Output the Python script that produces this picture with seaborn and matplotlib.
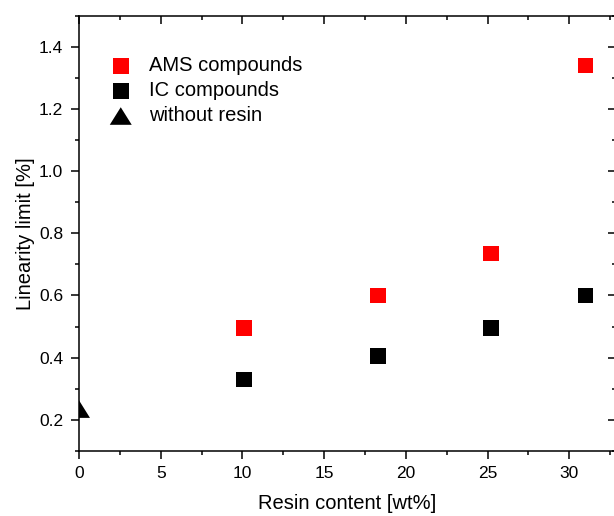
import numpy as np
import pandas as pd
import matplotlib
matplotlib.use("Agg")
import matplotlib.pyplot as plt
from matplotlib.path import Path
from matplotlib.ticker import MultipleLocator, FormatStrFormatter
import seaborn as sns

# Data
ams_resin = [10.1, 18.3, 25.2, 31.0]
ams_limit = [0.495, 0.60, 0.735, 1.34]
ic_resin = [10.1, 18.3, 25.2, 31.0]
ic_limit = [0.33, 0.405, 0.495, 0.60]
none_resin = [0.0]
none_limit = [0.234]

sns.set_theme(style="ticks")
plt.rcParams['font.family'] = ['Liberation Sans', 'DejaVu Sans']
plt.rcParams.update({
    'xtick.direction': 'out', 'ytick.direction': 'out',
    'axes.linewidth': 1.1, 'axes.edgecolor': 'black',
    'xtick.color': 'black', 'ytick.color': 'black',
    'xtick.labelcolor': 'black', 'ytick.labelcolor': 'black',
    'text.color': 'black', 'axes.labelcolor': 'black',
})

fig = plt.figure(figsize=(6.14, 5.16), dpi=100)
ax = fig.add_axes([79/614, 1 - 450.7/516, (616 - 79)/614, (450.7 - 16)/516])

tri = Path([(-1.0, -0.8), (1.0, -0.8), (0.0, 0.8), (-1.0, -0.8)],
           [Path.MOVETO, Path.LINETO, Path.LINETO, Path.CLOSEPOLY])

df_ams = pd.DataFrame({'x': ams_resin, 'y': ams_limit})
df_ic = pd.DataFrame({'x': ic_resin, 'y': ic_limit})
df_none = pd.DataFrame({'x': none_resin, 'y': none_limit})

sns.scatterplot(data=df_ams, x='x', y='y', ax=ax, marker='s', s=125,
                color='#ff0000', edgecolor='none', label='AMS compounds')
sns.scatterplot(data=df_ic, x='x', y='y', ax=ax, marker='s', s=125,
                color='black', edgecolor='none', label='IC compounds')
sns.scatterplot(data=df_none, x='x', y='y', ax=ax, marker=tri, s=250,
                color='black', edgecolor='none', label='without resin')

ax.set_xlim(0, 32.86)
ax.set_ylim(0.1, 1.5)
ax.xaxis.set_major_locator(MultipleLocator(5))
ax.xaxis.set_minor_locator(MultipleLocator(2.5))
ax.yaxis.set_major_locator(MultipleLocator(0.2))
ax.yaxis.set_minor_locator(MultipleLocator(0.1))
ax.yaxis.set_major_formatter(FormatStrFormatter('%.1f'))

ax.tick_params(which='both', top=True, right=True, labelsize=12.5, width=1.1,
               pad=5.5, colors='black')
ax.tick_params(which='major', length=5.8)
ax.tick_params(which='minor', length=3)
# inward ticks for top/right
for t in ax.xaxis.get_major_ticks() + ax.xaxis.get_minor_ticks():
    t.tick2line.set_marker(matplotlib.lines.TICKDOWN)
for t in ax.yaxis.get_major_ticks() + ax.yaxis.get_minor_ticks():
    t.tick2line.set_marker(matplotlib.lines.TICKLEFT)

ax.set_xlabel('Resin content [wt%]', fontsize=14.5, labelpad=8.8, color='black')
ax.set_ylabel('Linearity limit [%]', fontsize=14.5, labelpad=2.6, color='black')

leg = ax.legend(loc='upper left', bbox_to_anchor=(0.044, 0.926), frameon=False,
                fontsize=14.5, handletextpad=0.9, labelspacing=0.3,
                handlelength=1.0, borderaxespad=0, labelcolor='black')

ax.set_facecolor('white')
fig.patch.set_facecolor('white')
fig.savefig('out.png', dpi=100)
